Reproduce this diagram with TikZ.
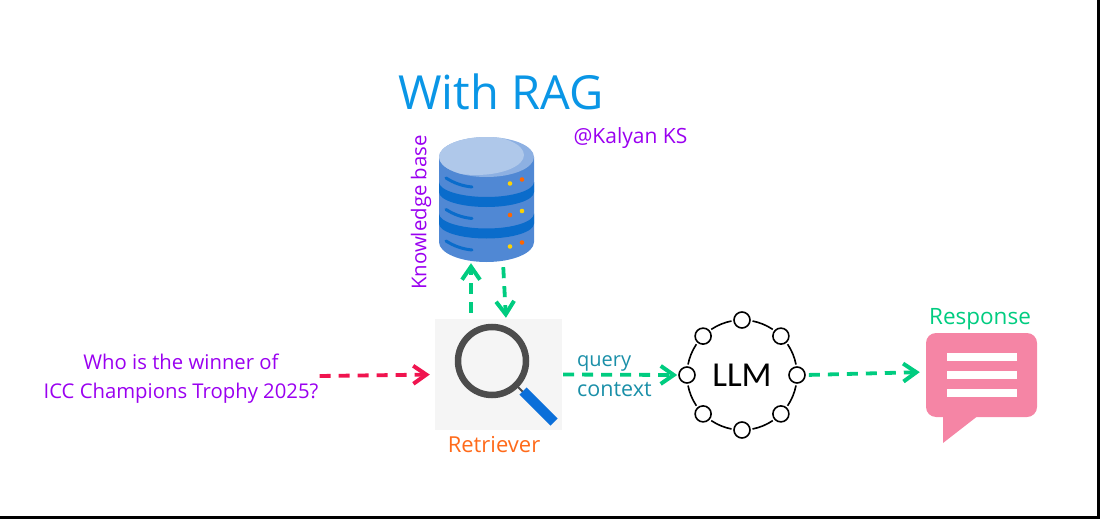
\documentclass[tikz,border=0pt]{standalone}
\usepackage{fontspec}
\setmainfont{Open Sans}
\newfontfamily\llmfont{Carlito}
\usetikzlibrary{positioning,arrows.meta}
\definecolor{rayPurple}{HTML}{9A00F0}
\definecolor{rayGreen}{HTML}{00CC80}
\definecolor{rayRed}{HTML}{F0144F}
\definecolor{rayBlue}{HTML}{0A96E6}
\definecolor{rayTeal}{HTML}{1A8FA8}
\definecolor{rayOrange}{HTML}{FF6A1A}
\definecolor{dbBody}{HTML}{5088D4}
\definecolor{dbBand}{HTML}{0A6CCB}
\definecolor{dbTop}{HTML}{8DB0E2}
\definecolor{dbShine}{HTML}{AFC8EA}
\definecolor{lensHandle}{HTML}{0B6FD9}
\definecolor{bubblePink}{HTML}{F585A5}

\begin{document}
\begin{tikzpicture}[
    x=1pt, y=-1pt,
    textNode/.style={inner sep=0pt, align=center},
    arrow/.style={-{Straight Barb[length=13pt,width=18pt,line width=4pt]}, line width=3.8pt, dash pattern=on 11pt off 8pt},
    ringDot/.style={circle, draw, fill=white, line width=1.6pt, minimum size=16pt, inner sep=0pt},
    ringArc/.style={line width=1.6pt},
    bubbleBar/.style={fill=white, draw=none}
  ]
  \useasboundingbox (0,0) rectangle (1100,519);

  % Page edge
  \draw[line width=2.6pt] (1098.5,0) -- (1098.5,517.7) -- (0,517.7);

  % Title
  \node[textNode, text=rayBlue, font=\fontsize{47}{50}\selectfont] (title) at (501,92) {With RAG};
  \node[textNode, text=rayPurple, font=\fontsize{21}{24}\selectfont] (handle) at (630.5,138) {@Kalyan KS};

  % Knowledge base
  \node[minimum width=95pt, minimum height=125pt, inner sep=0pt] (db) at (486.5,199.5) {};
  \fill[dbBody] (439,157) -- (439,242) arc[start angle=180, end angle=360, x radius=47.5pt, y radius=20pt] -- (534,157) -- cycle;
  \foreach \dy in {0,31.5} {
    \fill[dbBand] (439,{182+\dy}) arc[start angle=180, end angle=360, x radius=47.5pt, y radius=15pt]
      -- (534,{192+\dy}) arc[start angle=360, end angle=180, x radius=47.5pt, y radius=15pt] -- cycle;
  }
  \fill[dbTop] (486.5,157) ellipse [x radius=47.5pt, y radius=20pt];
  \begin{scope}
    \clip (486.5,157) ellipse [x radius=47.5pt, y radius=20pt];
    \fill[dbShine] (476,155) ellipse [x radius=48pt, y radius=20pt];
  \end{scope}
  \foreach \dy/\first/\second in {0/yellow!70!orange/orange!80!red, 31.5/orange!80!red/yellow!70!orange, 63/yellow!70!orange/orange!80!red} {
    \draw[dbBand, line width=3pt, line cap=round] (446,{178+\dy}) .. controls (454,{183+\dy}) and (462,{186+\dy}) .. (472,{187+\dy});
    \fill[\first] (510,{183.5+\dy}) circle (2.3pt);
    \fill[\second] (522,{179.5+\dy}) circle (2.3pt);
  }
  \node[textNode, text=rayPurple, rotate=90, font=\fontsize{20.4}{24}\selectfont] (kbLabel) at (421,212.5) {Knowledge base};

  % Retriever
  \node[fill=black!4, minimum width=127pt, minimum height=111pt, inner sep=0pt] (retriever) at (498.5,374.5) {};
  \draw[black!70, line width=2pt] (518,387) -- (524,393);
  \draw[black!70, line width=6.5pt] (492,361) circle (34pt);
  \draw[lensHandle, line width=10pt] (523,391) -- (554,422);
  \node[textNode, text=rayOrange, font=\fontsize{22}{24}\selectfont, below=6pt of retriever, xshift=-4.5pt] (retrieverLabel) {Retriever};

  % LLM
  \node[circle, minimum size=110pt, inner sep=0pt, font=\llmfont\fontsize{35}{40}\selectfont] (llm) at (742,375) {LLM};
  \foreach \a in {0,45,...,315} {
    \node[ringDot] (dot\a) at ([shift={(\a:55pt)}]llm.center) {};
    \draw[ringArc] ([shift={(\a+11:55pt)}]llm.center) arc[start angle=\a+11, end angle=\a+34, radius=55pt];
  }

  % Response
  \node[fill=bubblePink, rounded corners=10pt, minimum width=111pt, minimum height=84pt, inner sep=0pt] (bubble) at (981.5,375) {};
  \fill[bubblePink] (943,415) -- (943,443) -- (979,415) -- cycle;
  \foreach \y in {353,371,389} {
    \fill[bubbleBar] (947,\y) rectangle (1017,\y+7.5);
  }
  \node[textNode, text=rayGreen, font=\fontsize{22.5}{24}\selectfont] (responseLabel) at (980,319.5) {Response};

  % Question
  \node[textNode, text=rayPurple, font=\fontsize{20.3}{29}\selectfont] (question) at (181,379) {Who is the winner of\\ICC Champions Trophy 2025?};

  % Edge labels
  \node[textNode, text=rayTeal, font=\fontsize{20}{24}\selectfont, anchor=west] (queryLabel) at (577,363) {query};
  \node[textNode, text=rayTeal, font=\fontsize{21.5}{24}\selectfont, anchor=west] (contextLabel) at (577,389.5) {context};

  % Arrows
  \draw[arrow, rayRed, shorten <=1pt, shorten >=5pt] ([yshift=3pt]question.east) -- (retriever.west);
  \draw[arrow, rayGreen, shorten <=6pt, shorten >=1pt] ([xshift=-27.5pt]retriever.north) -- ([xshift=-15.5pt]db.south);
  \draw[arrow, rayGreen, shorten <=5pt, shorten >=1pt] ([xshift=16.5pt]db.south) -- ([xshift=7.5pt]retriever.north);
  \draw[arrow, rayGreen, shorten <=1pt, shorten >=1pt] (retriever.east) -- (dot180.west);
  \draw[arrow, rayGreen, shorten <=3pt, shorten >=6pt] (dot0.east) -- ([yshift=3pt]bubble.west);
\end{tikzpicture}
\end{document}
